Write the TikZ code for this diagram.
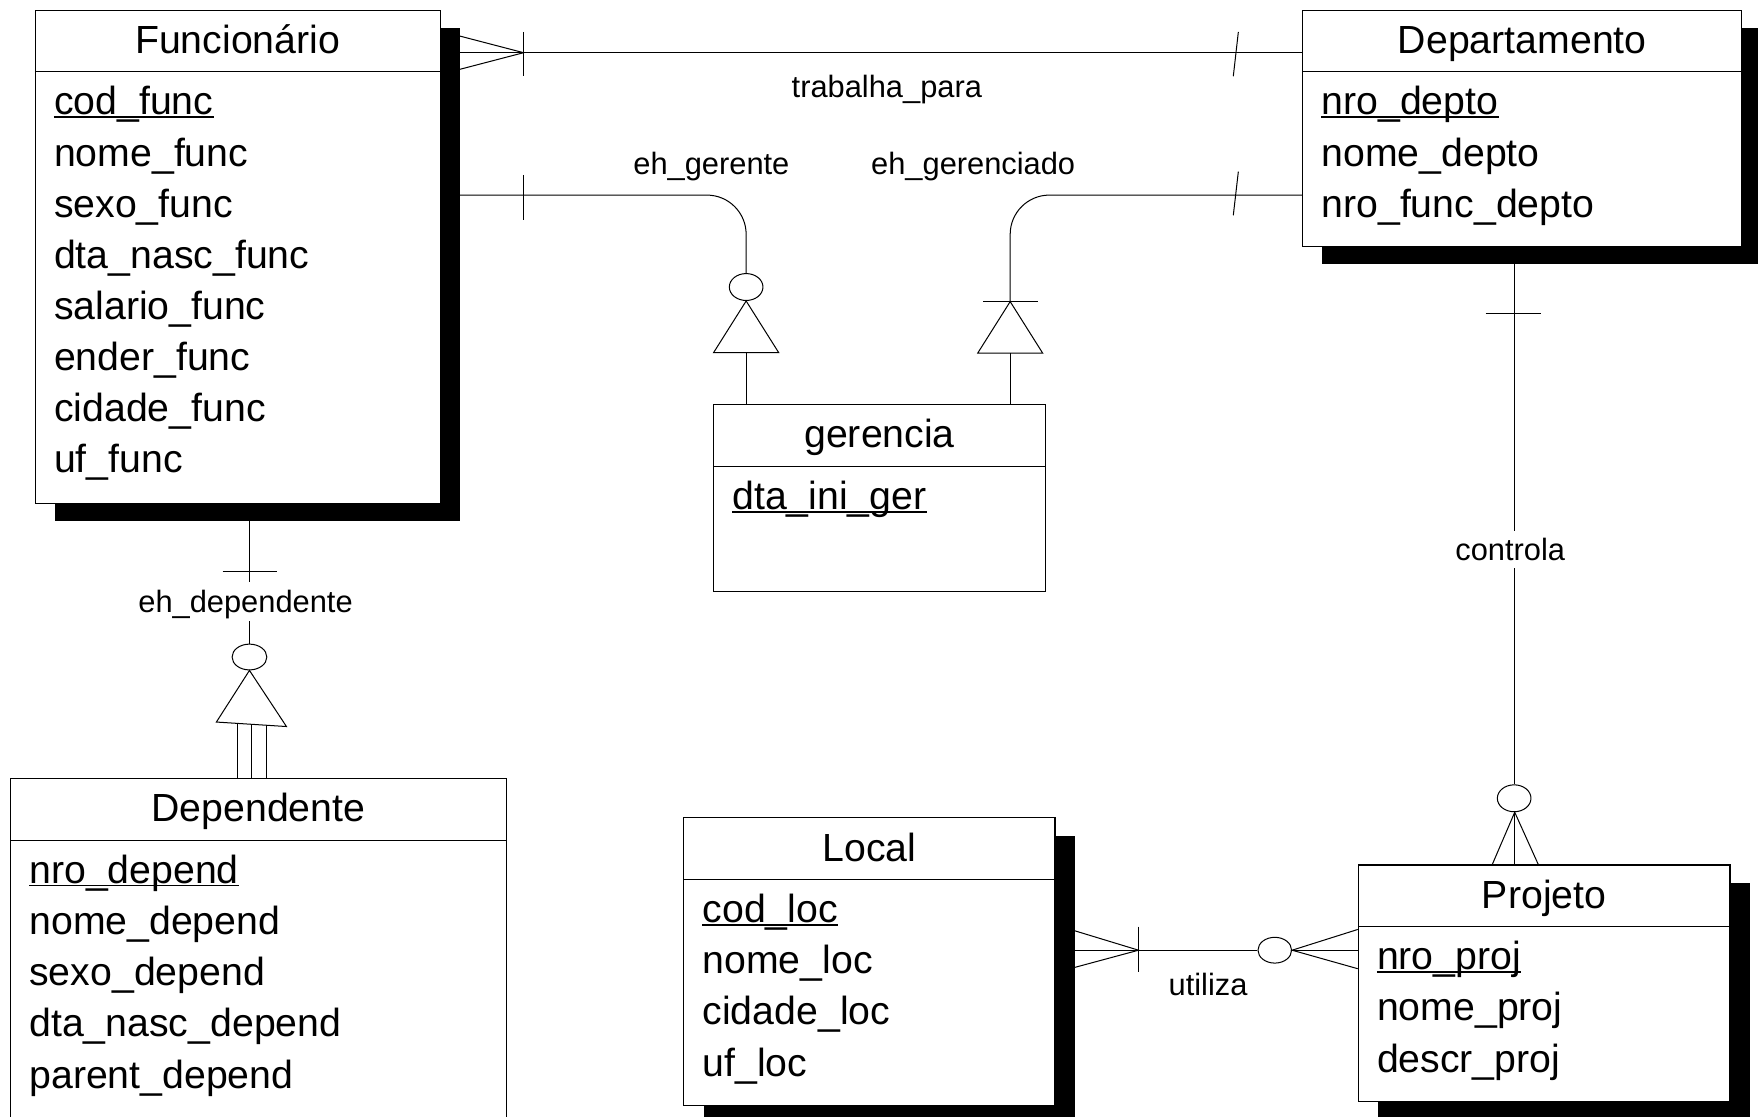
\documentclass[tikz,border=0pt]{standalone}
\usepackage{fontspec}
\setmainfont{Liberation Sans}
\usetikzlibrary{shapes.geometric,shadows,calc}

\tikzset{
  ent/.style={draw, line width=1pt, fill=white, rectangle, inner sep=0pt, anchor=north west},
  shadowed/.style={drop shadow={shadow xshift=17.5pt, shadow yshift=-16pt, fill=black, opacity=1}},
  sep/.style={line width=1pt},
  uline/.style={line width=1.3pt},
  etitle/.style={font=\fontsize{35}{42}\selectfont, inner sep=0pt, anchor=base},
  eattr/.style={font=\fontsize{35}{42}\selectfont, inner sep=0pt, anchor=base west},
  rlabel/.style={font=\fontsize{27.5}{33}\selectfont, inner sep=0pt, anchor=base},
  gaplabel/.style={rlabel, fill=white, inner xsep=2pt},
  conn/.style={line width=0.9pt},
  opt/.style={draw, ellipse, line width=0.9pt, minimum width=30pt, minimum height=24pt, inner sep=0pt, fill=white},
}

% entity box: style, name, top-left corner, width, height, title, attributes
\newcommand{\erbox}[7]{%
  \node[ent,#1,minimum width=#4pt,minimum height=#5pt] (#2) at (#3) {};
  \draw[sep] ($(#2.north west)+(0,55.5)$) -- ($(#2.north east)+(0,55.5)$);
  \node[etitle] (#2-t) at ($(#2.north)+(0,39)$) {#6};
  \foreach \txt [count=\i from 0] in {#7} {
    \node[eattr] (#2-a\i) at ($(#2.north west)+(17,94+45.6*\i)$) {\txt};
  }
  \draw[uline] ([yshift=-2pt]#2-a0.base west) -- ([yshift=-2pt]#2-a0.base east);
}

\begin{document}
\begin{tikzpicture}[x=1pt,y=-1pt]
\useasboundingbox (0,0) rectangle (1568,996);
\clip (0,0) rectangle (1568,996);
\fill[white] (0,0) rectangle (1568,996);

% ---------- entities ----------
\erbox{shadowed}{func}{31,8.5}{361}{440}{Funcionário}%
  {cod\_func,nome\_func,sexo\_func,dta\_nasc\_func,salario\_func,ender\_func,cidade\_func,uf\_func}
\erbox{shadowed}{dept}{1161.5,8.5}{391.5}{210.5}{Departamento}%
  {nro\_depto,nome\_depto,nro\_func\_depto}
\erbox{}{ger}{636,360.5}{296}{166.5}{gerencia}{dta\_ini\_ger}
\erbox{}{dep}{9,694}{442}{330}{Dependente}%
  {nro\_depend,nome\_depend,sexo\_depend,dta\_nasc\_depend,parent\_depend}
\erbox{shadowed}{loc}{609.5,729}{331}{256.5}{Local}%
  {cod\_loc,nome\_loc,cidade\_loc,uf\_loc}
\erbox{shadowed}{proj}{1211,771}{331.5}{211}{Projeto}%
  {nro\_proj,nome\_proj,descr\_proj}

% ---------- trabalha_para ----------
\coordinate (ytp) at (0,47);
\draw[conn] (func.east |- ytp) -- (dept.west |- ytp);
\draw[conn] (409.5,32) -- (467,47) -- (409.5,62);
\draw[conn] (467,28.5) -- (467,68);
\draw[conn] (1104.5,28.5) -- (1100,68);
\node[rlabel] (lbl-tp) at (791,87) {trabalha\_para};

% ---------- eh_gerente ----------
\coordinate (yeg) at (0,174);
\node[opt] (o-eg) at (665.5,256) {};
\draw[conn, rounded corners=35pt] (func.east |- yeg) -- (o-eg.north |- yeg) -- (o-eg.north);
\draw[conn] (467,156) -- (467,196);
\draw[conn] (o-eg.south) -- ++(-29,46) -- ++(58,0) -- cycle;
\draw[conn] ($(o-eg.south)+(0,46)$) -- (o-eg.south |- ger.north);
\node[rlabel] (lbl-eg) at (634.5,156) {eh\_gerente};

% ---------- eh_gerenciado ----------
\coordinate (mg) at (901,269);
\draw[conn, rounded corners=35pt] (dept.west |- yeg) -- (mg |- yeg) -- (mg);
\draw[conn] ($(mg)+(-24,0)$) -- ($(mg)+(25,0)$);
\draw[conn] (mg) -- ++(-29,46) -- ++(58,0) -- cycle;
\draw[conn] ($(mg)+(0,46)$) -- (mg |- ger.north);
\draw[conn] (1104.5,153) -- (1100,192);
\node[rlabel] (lbl-egd) at (868,156) {eh\_gerenciado};

% ---------- controla ----------
\coordinate (xc) at (1351,0);
\node[opt] (o-c) at (1350.5,712) {};
\draw[conn] (dept.south -| xc) -- (o-c.north -| xc);
\draw[conn] (1325,280) -- (1374,280);
\node[gaplabel, text height=25.5pt, text depth=7.5pt] (lbl-c) at (1347,499.5) {controla};
\draw[conn] (1331,771) -- (o-c.south -| xc) -- (1372,771);
\draw[conn] (o-c.south -| xc) -- (proj.north -| xc);

% ---------- utiliza ----------
\coordinate (yu) at (0,847.5);
\node[opt, minimum height=23pt] (o-u) at (1137,847.5) {};
\draw[conn] (loc.east |- yu) -- (o-u.west);
\draw[conn] (o-u.east) -- (proj.west |- yu);
\draw[conn] (958,830) -- (1015.5,847.5) -- (958,863);
\draw[conn] (1015.5,826.5) -- (1015.5,867);
\draw[conn] (1211,829) -- (o-u.east) -- (1211,864);
\node[rlabel] (lbl-u) at (1077.5,888) {utiliza};

% ---------- eh_dependente ----------
\node[opt, minimum width=31pt, minimum height=23pt] (o-d) at (222.5,586) {};
\draw[conn] (func.south -| o-d.north) -- (o-d.north);
\draw[conn] (198.5,509.5) -- (247,509.5);
\node[gaplabel, text height=27.5pt, text depth=7pt] (lbl-d) at (219,546.5) {eh\_dependente};
\draw[conn] (o-d.south) -- (193,644) -- (255.5,648) -- cycle;
\draw[conn] (211.5,645) -- (dep.north -| 211.5,0);
\draw[conn] (224,646.5) -- (dep.north -| 224,0);
\draw[conn] (238,647) -- (dep.north -| 238,0);
\end{tikzpicture}
\end{document}
